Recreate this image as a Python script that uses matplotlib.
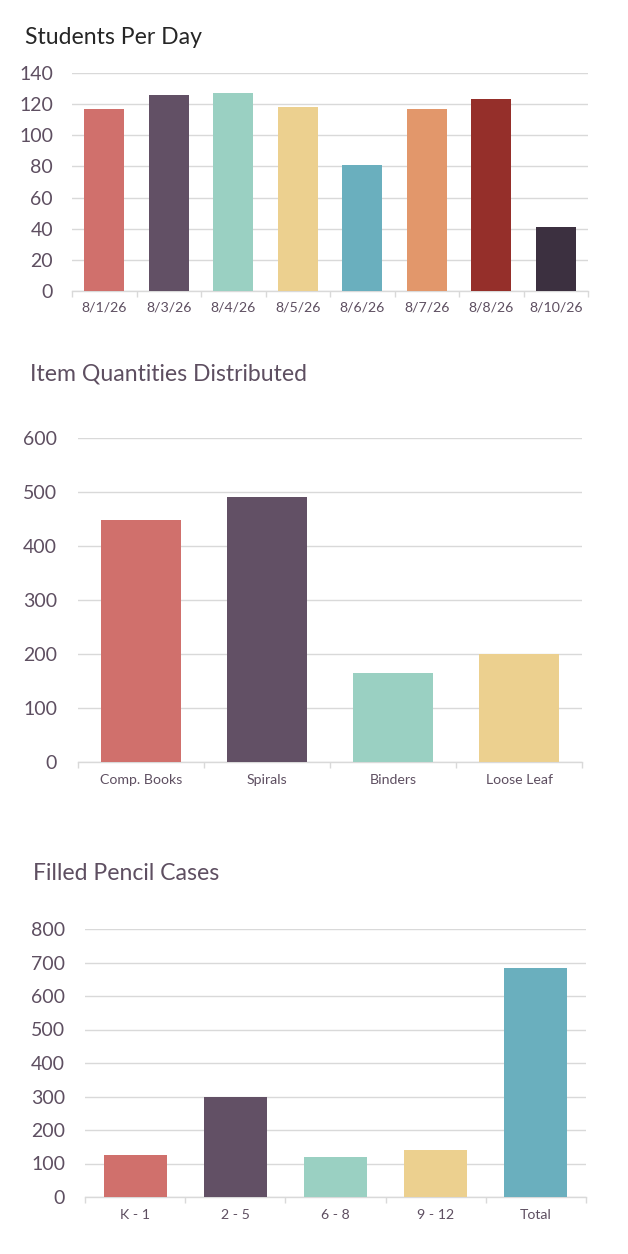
import matplotlib
matplotlib.use("Agg")
import matplotlib.pyplot as plt
import numpy as np

plt.rcParams['font.family'] = ['Lato', 'DejaVu Sans']

# Data
days = ["8/1/26", "8/3/26", "8/4/26", "8/5/26", "8/6/26", "8/7/26", "8/8/26", "8/10/26"]
students = [117, 126, 127, 118, 81, 117, 123, 41]

items = ["Comp. Books", "Spirals", "Binders", "Loose Leaf"]
item_qty = [449, 490, 165, 200]

grades = ["K - 1", "2 - 5", "6 - 8", "9 - 12", "Total"]
cases = [125, 300, 120, 140, 685]

palette = ["#D0706C", "#625065", "#9AD0C2", "#ECD08F", "#6AAFBE", "#E2976B", "#952F2A", "#3C3040"]
label_color = "#5E4F61"
grid_color = "#D9D9D9"

W, H = 628, 1254
fig = plt.figure(figsize=(W / 100, H / 100), dpi=100)


def px_axes(left, right, top, bottom):
    return fig.add_axes([left / W, 1 - bottom / H, (right - left) / W, (bottom - top) / H])


def draw(ax, cats, vals, ymax, step, width, ypad_px, xpad_px):
    n = len(cats)
    x = np.arange(n)
    ax.bar(x, vals, width=width, color=palette[:n], zorder=3)
    ax.set_xlim(-0.5, n - 0.5)
    ax.set_ylim(0, ymax)
    ax.set_yticks(np.arange(0, ymax + 1, step))
    ax.yaxis.grid(True, color=grid_color, linewidth=1.0, zorder=0)
    ax.set_axisbelow(True)
    for s in ["top", "right", "left"]:
        ax.spines[s].set_visible(False)
    ax.spines["bottom"].set_color(grid_color)
    ax.spines["bottom"].set_linewidth(1.0)
    ax.tick_params(axis="y", length=0, pad=ypad_px * 0.72, labelsize=14, labelcolor=label_color)
    ax.set_xticks(np.arange(n + 1) - 0.5)
    ax.set_xticklabels([])
    ax.tick_params(axis="x", which="major", length=4, color=grid_color, width=1.0)
    ax.set_xticks(x, minor=True)
    ax.set_xticklabels(cats, minor=True)
    ax.tick_params(axis="x", which="minor", length=0, pad=xpad_px * 0.72, labelsize=10.2,
                   labelcolor=label_color)


ax1 = px_axes(72, 588, 73, 291)
draw(ax1, days, students, 140, 20, 0.625, 19, 11)
fig.text(25 / W, 1 - 37 / H, "Students Per Day", fontsize=16.6, color="#262626", va="center", ha="left")

ax2 = px_axes(78, 582, 438, 762)
draw(ax2, items, item_qty, 600, 100, 0.627, 21, 12)
fig.text(30 / W, 1 - 374 / H, "Item Quantities Distributed", fontsize=16.6, color=label_color,
         va="center", ha="left")

ax3 = px_axes(85, 586, 929, 1197)
draw(ax3, grades, cases, 800, 100, 0.63, 20, 12)
fig.text(33 / W, 1 - 874 / H, "Filled Pencil Cases", fontsize=16.6, color=label_color, va="center", ha="left")

fig.savefig("out.png", dpi=100, facecolor="white")
